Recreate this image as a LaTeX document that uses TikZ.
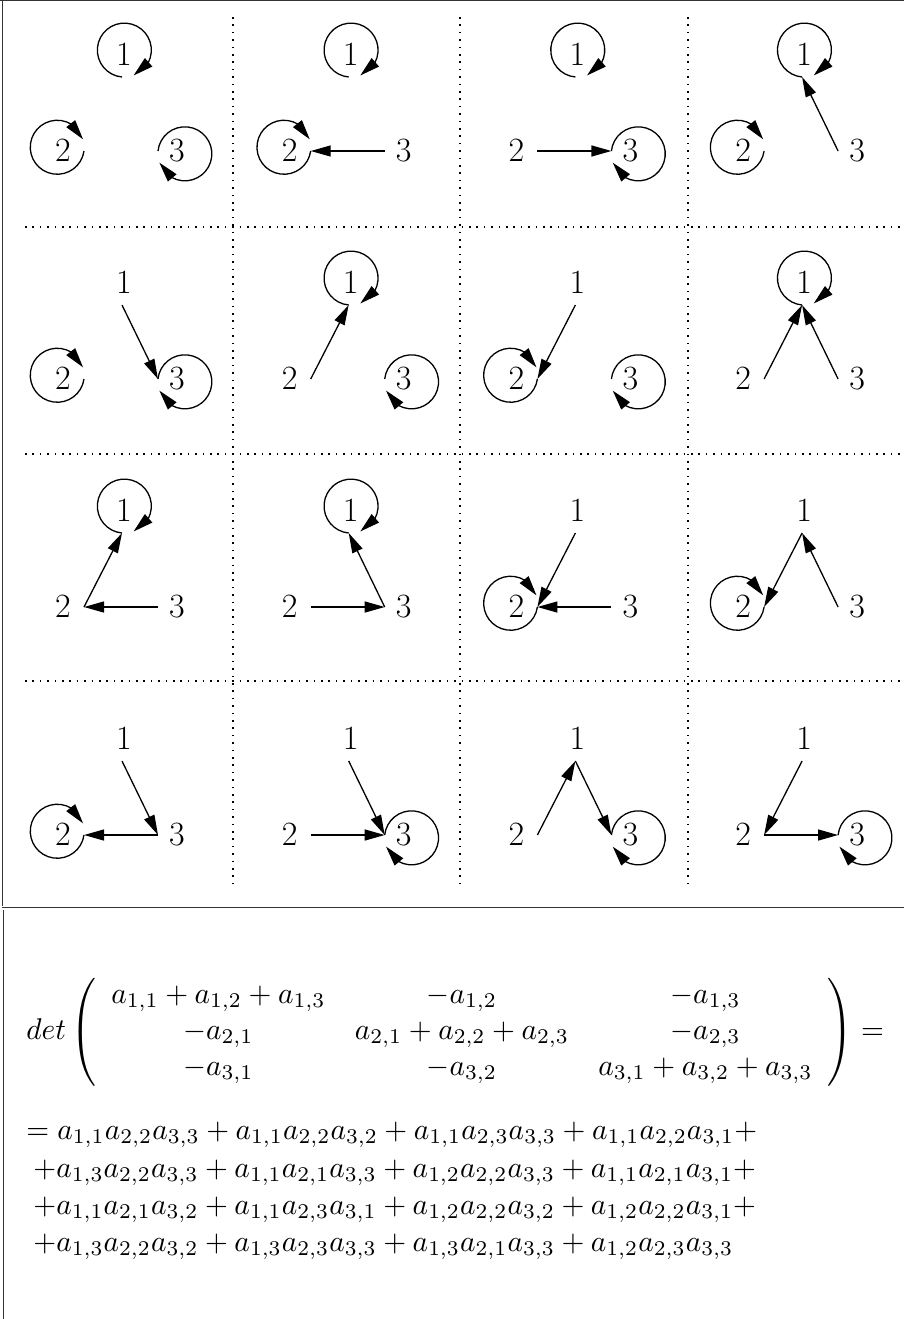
\documentclass[tikz,border=0pt]{standalone}
\usetikzlibrary{arrows.meta,bending}
\expandafter\def\csname langA1\endcsname{265}
\expandafter\def\csname langA2\endcsname{-8}
\expandafter\def\csname langA3\endcsname{174}
\newcommand\eqbox[1]{\scalebox{1.47}[1.5]{#1}}
\begin{document}
\begin{tikzpicture}[x=0.5pt,y=0.5pt,
  lab/.style={inner sep=0pt, font=\fontsize{17}{20}\selectfont},
  edge/.style={line width=0.65pt, -{Triangle[length=10pt,width=5.5pt,flex]}},
  sep/.style={line width=0.75pt, dash pattern=on 0.8pt off 2.9pt},
  frame/.style={line width=0.65pt, black!80},
  eq/.style={inner sep=0pt, anchor=base west}]
\useasboundingbox (0,0) rectangle (904,-1319);
\newcommand\gcell[2]{%
  \pgfmathsetmacro\cx{124+226.7*#2}%
  \pgfmathsetmacro\cy{-54-228*#1}%
  \node[lab] (n1-#1#2) at (\cx,\cy) {1};
  \node[lab] (n2-#1#2) at (\cx-61,\cy-96) {2};
  \node[lab] (n3-#1#2) at (\cx+53,\cy-97) {3};
  \coordinate (a1-#1#2) at (\cx-2,\cy-23);
  \coordinate (a2-#1#2) at (\cx-40,\cy-97);
  \coordinate (a3-#1#2) at (\cx+34,\cy-97);
}
\newcommand\gloops[2]{%
  \foreach \l in {#2} {\draw[edge] (a\l-#1) arc[start angle=\csname langA\l\endcsname, delta angle=-335, radius=27];}
}
\newcommand\gedges[2]{%
  \foreach \s/\t in {#2} {\draw[edge] (a\s-#1) -- (a\t-#1);}
}
% frame
\draw[frame] (0,-0.7) -- (904,-0.7);
\draw[frame] (2.3,0) -- (2.3,-906);
\draw[frame] (2.3,-907.5) -- (904,-907.5);
\draw[frame] (3.5,-910) -- (3.5,-1319);
% separators
\foreach \x in {233,460,688} {\draw[sep] (\x,-17) -- (\x,-888);}
\foreach \y in {227,454,681} {\draw[sep] (25,-\y) -- (904,-\y);}
% row 0
\gcell{0}{0}\gloops{00}{1,2,3}
\gcell{0}{1}\gloops{01}{1,2}\gedges{01}{3/2}
\gcell{0}{2}\gloops{02}{1,3}\gedges{02}{2/3}
\gcell{0}{3}\gloops{03}{1,2}\gedges{03}{3/1}
% row 1
\gcell{1}{0}\gloops{10}{2,3}\gedges{10}{1/3}
\gcell{1}{1}\gloops{11}{1,3}\gedges{11}{2/1}
\gcell{1}{2}\gloops{12}{2,3}\gedges{12}{1/2}
\gcell{1}{3}\gloops{13}{1}\gedges{13}{2/1,3/1}
% row 2
\gcell{2}{0}\gloops{20}{1}\gedges{20}{2/1,3/2}
\gcell{2}{1}\gloops{21}{1}\gedges{21}{3/1,2/3}
\gcell{2}{2}\gloops{22}{2}\gedges{22}{1/2,3/2}
\gcell{2}{3}\gloops{23}{2}\gedges{23}{1/2,3/1}
% row 3
\gcell{3}{0}\gloops{30}{2}\gedges{30}{1/3,3/2}
\gcell{3}{1}\gloops{31}{3}\gedges{31}{1/3,2/3}
\gcell{3}{2}\gloops{32}{3}\gedges{32}{2/1,1/3}
\gcell{3}{3}\gloops{33}{3}\gedges{33}{1/2,2/3}
% determinant
\node[inner sep=0pt, anchor=west] (det) at (26,-1032) {\eqbox{$det\left(\begin{array}{ccc}
a_{1,1}+a_{1,2}+a_{1,3} & -a_{1,2} & -a_{1,3}\\
-a_{2,1} & a_{2,1}+a_{2,2}+a_{2,3} & -a_{2,3}\\
-a_{3,1} & -a_{3,2} & a_{3,1}+a_{3,2}+a_{3,3}
\end{array}\right) =$}};
\node[eq] (l1) at (26,-1139) {\eqbox{$= a_{1,1}a_{2,2}a_{3,3} + a_{1,1}a_{2,2}a_{3,2} + a_{1,1}a_{2,3}a_{3,3} + a_{1,1}a_{2,2}a_{3,1}+$}};
\node[eq] (l2) at (33,-1177) {\eqbox{$+a_{1,3}a_{2,2}a_{3,3} + a_{1,1}a_{2,1}a_{3,3} + a_{1,2}a_{2,2}a_{3,3} + a_{1,1}a_{2,1}a_{3,1}+$}};
\node[eq] (l3) at (33,-1214) {\eqbox{$+a_{1,1}a_{2,1}a_{3,2} + a_{1,1}a_{2,3}a_{3,1} + a_{1,2}a_{2,2}a_{3,2} + a_{1,2}a_{2,2}a_{3,1}+$}};
\node[eq] (l4) at (33,-1251) {\eqbox{$+a_{1,3}a_{2,2}a_{3,2} + a_{1,3}a_{2,3}a_{3,3} + a_{1,3}a_{2,1}a_{3,3} + a_{1,2}a_{2,3}a_{3,3}$}};
\end{tikzpicture}
\end{document}
